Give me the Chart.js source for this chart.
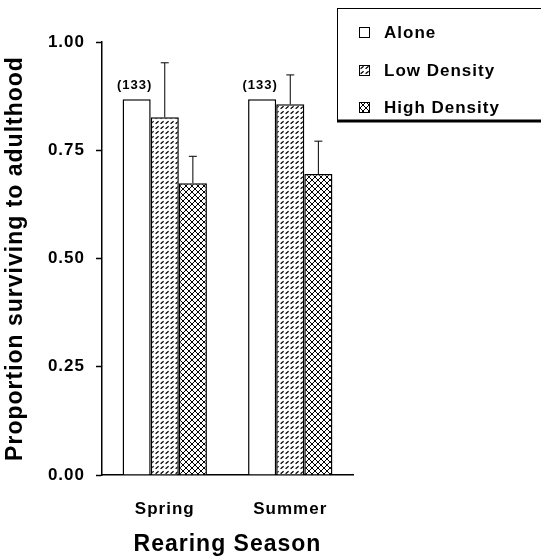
<!DOCTYPE html>
<html>
<head>
<meta charset="utf-8">
<script src="https://cdn.jsdelivr.net/npm/chart.js@4/dist/chart.umd.min.js"></script>
<style>
  html, body { margin: 0; padding: 0; background: #fff; }
  #wrap { width: 541px; height: 559px; }
</style>
</head>
<body>
<div id="wrap"><canvas id="chart1" width="541" height="559"></canvas></div>
<script>
// data
var categories = ['Spring', 'Summer'];
var seriesNames = ['Alone', 'Low Density', 'High Density'];
var alone = [0.868, 0.868];
var lowDensity = [0.826, 0.856];
var highDensity = [0.674, 0.695];
var lowDensitySE = [0.126, 0.068];
var highDensitySE = [0.062, 0.076];
var aloneN = ['(133)', '(133)'];
var yTicks = [0, 0.25, 0.5, 0.75, 1];

var FONT = '"Liberation Sans", Arial, sans-serif';

function makePattern(kind) {
  var c = document.createElement('canvas');
  var g = c.getContext('2d');
  if (kind == 'low') {
    c.width = 5; c.height = 5;
    g.fillStyle = '#fff';
    g.fillRect(0, 0, 5, 5);
    g.strokeStyle = '#000';
    g.lineWidth = 1.2;
    g.beginPath();
    g.moveTo(0.6, 3.8);
    g.lineTo(3.6, 1.2);
    g.stroke();
  } else {
    c.width = 6; c.height = 6;
    g.fillStyle = '#fff';
    g.fillRect(0, 0, 6, 6);
    g.strokeStyle = '#000';
    g.lineWidth = 1;
    g.beginPath();
    g.moveTo(0, 0); g.lineTo(6, 6);
    g.moveTo(0, 6); g.lineTo(6, 0);
    g.stroke();
  }
  return g.createPattern(c, 'repeat');
}

var lowPat = makePattern('low');
var highPat = makePattern('high');
var fills = ['#ffffff', lowPat, highPat];

// upward error bars and n labels
var errorBars = {
  id: 'errorBars',
  afterDatasetsDraw: function(chart) {
    var ctx = chart.ctx;
    var y = chart.scales.y;
    var errs = [null, lowDensitySE, highDensitySE];
    ctx.save();
    ctx.strokeStyle = '#000';
    ctx.lineWidth = 1;
    for (var i = 1; i < 3; i++) {
      var meta = chart.getDatasetMeta(i);
      meta.data.forEach(function(bar, j) {
        var v = chart.data.datasets[i].data[j];
        var top = y.getPixelForValue(v + errs[i][j]);
        ctx.beginPath();
        ctx.moveTo(bar.x, bar.y);
        ctx.lineTo(bar.x, top);
        ctx.moveTo(bar.x - 4, top);
        ctx.lineTo(bar.x + 4, top);
        ctx.stroke();
      });
    }
    ctx.fillStyle = '#000';
    ctx.font = 'bold 13px ' + FONT;
    ctx.textAlign = 'center';
    ctx.textBaseline = 'alphabetic';
    chart.getDatasetMeta(0).data.forEach(function(bar, j) {
      ctx.fillText(aloneN[j], bar.x - 2, bar.y - 10);
    });
    ctx.restore();
  }
};

// boxed legend in the top right corner
var boxLegend = {
  id: 'boxLegend',
  afterDraw: function(chart) {
    var ctx = chart.ctx;
    ctx.save();
    ctx.fillStyle = '#fff';
    ctx.fillRect(337, 8, 210, 112);
    ctx.strokeStyle = '#000';
    ctx.lineWidth = 1;
    ctx.strokeRect(337.5, 8.5, 210, 112);
    ctx.lineWidth = 3;
    ctx.beginPath();
    ctx.moveTo(337, 121);
    ctx.lineTo(541, 121);
    ctx.stroke();
    var rows = [32, 70, 107];
    ctx.font = 'bold 17px ' + FONT;
    ctx.textBaseline = 'middle';
    ctx.textAlign = 'left';
    if ('letterSpacing' in ctx) ctx.letterSpacing = '1px';
    for (var i = 0; i < 3; i++) {
      ctx.fillStyle = fills[i];
      ctx.fillRect(359, rows[i] - 5, 10, 10);
      ctx.lineWidth = 1;
      ctx.strokeStyle = '#000';
      ctx.strokeRect(359.5, rows[i] - 4.5, 10, 10);
      ctx.fillStyle = '#000';
      ctx.fillText(seriesNames[i], 384, rows[i] + 1);
    }
    ctx.restore();
  }
};

var spacing = {
  id: 'spacing',
  beforeDraw: function(chart) {
    if ('letterSpacing' in chart.ctx) chart.ctx.letterSpacing = '1px';
  }
};

var ctx = document.getElementById('chart1');

var chart1 = new Chart(ctx, {
  type: 'bar',
  data: {
    labels: categories,
    datasets: [{
      label: seriesNames[0],
      data: alone,
      backgroundColor: fills[0],
      borderColor: '#000',
      borderWidth: 1.5,
    }, {
      label: seriesNames[1],
      data: lowDensity,
      backgroundColor: fills[1],
      borderColor: '#000',
      borderWidth: 1.5,
    }, {
      label: seriesNames[2],
      data: highDensity,
      backgroundColor: fills[2],
      borderColor: '#000',
      borderWidth: 1.5,
    }]
  },
  options: {
    responsive: false,
    animation: false,
    categoryPercentage: 0.672,
    barPercentage: 1.0,
    layout: { padding: { left: 0, top: 42, right: 188, bottom: 0 } },
    plugins: {
      legend: { display: false },
      tooltip: { enabled: false },
    },
    scales: {
      x: {
        grid: { display: false, drawTicks: false },
        border: { display: true, color: '#000', width: 1.5 },
        ticks: {
          color: '#000',
          padding: 24,
          font: { family: FONT, size: 17, weight: 'bold' },
        },
        title: {
          display: true,
          text: 'Rearing Season',
          color: '#000',
          padding: { top: 0, bottom: 1 },
          font: { family: FONT, size: 23, weight: 'bold' },
        },
        afterFit: function(scale) { scale.height = 84; },
      },
      y: {
        min: 0,
        max: 1,
        afterBuildTicks: function(scale) {
          scale.ticks = yTicks.map(function(v) { return { value: v }; });
        },
        grid: {
          drawOnChartArea: false,
          drawTicks: true,
          tickLength: 6,
          tickColor: '#000',
          tickWidth: 1.5,
        },
        border: { display: true, color: '#000', width: 1.5 },
        ticks: {
          color: '#000',
          padding: 11,
          font: { family: FONT, size: 17, weight: 'bold' },
          callback: function(v) { return Number(v).toFixed(2); },
        },
        title: {
          display: true,
          text: 'Proportion surviving to adulthood',
          color: '#000',
          padding: { top: 2, bottom: 0 },
          font: { family: FONT, size: 23, weight: 'bold' },
        },
        afterFit: function(scale) { scale.width = 102; },
      }
    }
  },
  plugins: [spacing, errorBars, boxLegend]
});
</script>
</body>
</html>
